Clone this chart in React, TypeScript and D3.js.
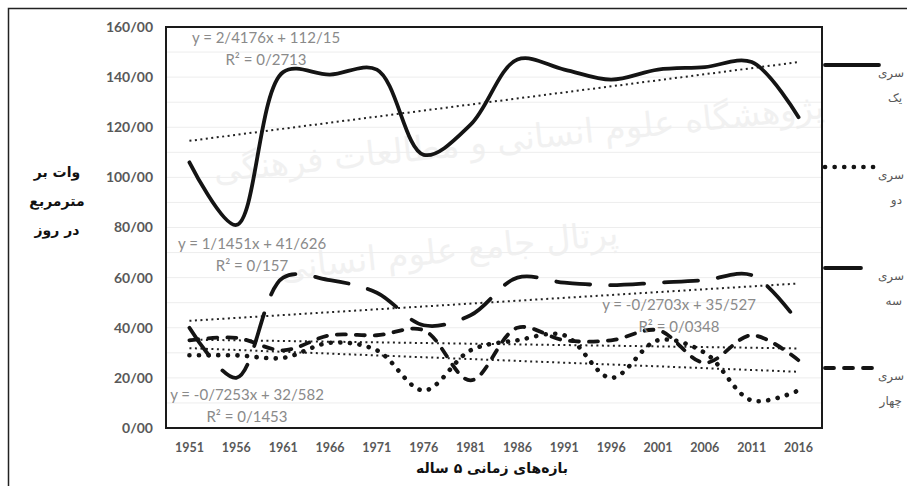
import React from "react";
import * as d3 from "d3";

// periods (x axis)
const years = ["1951", "1956", "1961", "1966", "1971", "1976", "1981", "1986", "1991", "1996", "2001", "2006", "2011", "2016"];

// series values
const seriesOne = [106, 81, 142, 141, 143, 109, 121, 147, 143, 139, 143, 144, 146, 124];
const seriesTwo = [29, 29, 28, 34, 31, 15, 31, 35, 37, 20, 35, 30, 11, 15];
const seriesThree = [40, 20, 60, 59, 54, 41, 45, 60, 58, 57, 58, 59, 61, 42];
const seriesFour = [35, 36, 31, 37, 37, 39, 19, 40, 35, 35, 39, 26, 37, 27];

// legend names (two lines each)
const seriesNames = [
  ["سری", "یک"],
  ["سری", "دو"],
  ["سری", "سه"],
  ["سری", "چهار"],
];

// linear trend equations as printed on the chart
const trendSlopes = [2.4176, -0.7253, 1.1451, -0.2703];
const trendIntercepts = [112.15, 32.582, 41.626, 35.527];
const trendEquations = ["y = 2/4176x + 112/15", "y = -0/7253x + 32/582", "y = 1/1451x + 41/626", "y = -0/2703x + 35/527"];
const trendR2 = ["R² = 0/2713", "R² = 0/1453", "R² = 0/157", "R² = 0/0348"];

const yTicks = [0, 20, 40, 60, 80, 100, 120, 140, 160];
const yTitle = ["وات بر", "مترمربع", "در روز"];
const xTitle = "بازه‌های زمانی ۵ ساله";

const W = 907;
const H = 486;
const plot = { left: 166, right: 822, top: 27, bottom: 428 };

const lineColor = "#141414";
const grayText = "#595959";
const eqText = "#8a8a8a";

const App = () => {
  const x = d3.scalePoint<string>().domain(years).range([plot.left, plot.right]).padding(0.5);
  const y = d3.scaleLinear().domain([0, 160]).range([plot.bottom, plot.top]);

  const line = d3
    .line<number>()
    .x((d, i) => x(years[i]) as number)
    .y((d) => y(d))
    .curve(d3.curveCatmullRom.alpha(0.5));

  const allSeries = [seriesOne, seriesTwo, seriesThree, seriesFour];
  const styles = [
    { dash: "none", width: 3.8 },
    { dash: "0.1 9.5", width: 4.6 },
    { dash: "34 20", width: 3.8 },
    { dash: "9 10", width: 3.8 },
  ];

  // trend line endpoints from the printed equations (x = 1 .. n)
  const trends = trendSlopes.map((m, k) => {
    const n = years.length;
    return [
      [x(years[0]) as number, y(m * 1 + trendIntercepts[k])],
      [x(years[n - 1]) as number, y(m * n + trendIntercepts[k])],
    ];
  });

  // label placement for the equations [centerX, line1 Y]
  const eqPos = [
    [266, 38],
    [247, 395],
    [252, 244],
    [679, 305],
  ];

  const legendY = [65, 167, 268, 368];
  const legendEnd = [879, 879, 861, 879];

  const grid = d3.range(0, 161, 10);

  return (
    <svg width={W} height={H} style={{ position: "absolute", left: 0, top: 0, background: "#fff" }}>
      {/* outer frame */}
      <rect x={8.5} y={8.5} width={920} height={490} fill="none" stroke="#222" strokeWidth={1.5} />

      {/* faint watermark */}
      <g fill="#f1f1f1" fontFamily="DejaVu Sans" textAnchor="middle">
        <text x={520} y={150} fontSize={34} transform="rotate(-6 520 150)">پژوهشگاه علوم انسانی و مطالعات فرهنگی</text>
        <text x={450} y={262} fontSize={34} transform="rotate(-6 450 262)">پرتال جامع علوم انسانی</text>
      </g>

      {/* faint grid */}
      {grid.map((g) => (
        <line key={g} x1={plot.left} x2={plot.right} y1={y(g)} y2={y(g)} stroke="#ededed" strokeWidth={1} />
      ))}

      {/* plot frame */}
      <rect
        x={plot.left}
        y={plot.top}
        width={plot.right - plot.left}
        height={plot.bottom - plot.top}
        fill="none"
        stroke="#1a1a1a"
        strokeWidth={2}
      />

      {/* y tick labels */}
      {yTicks.map((t) => (
        <text
          key={t}
          x={153}
          y={y(t)}
          dy="0.35em"
          textAnchor="end"
          fontFamily="Lato, 'Open Sans', sans-serif"
          fontWeight={700}
          fontSize={14}
          fill={grayText}
        >
          {`${t}/00`}
        </text>
      ))}

      {/* x tick labels */}
      {years.map((yr) => (
        <text
          key={yr}
          x={x(yr)}
          y={452}
          textAnchor="middle"
          fontFamily="Lato, 'Open Sans', sans-serif"
          fontWeight={700}
          fontSize={12.5}
          fill={grayText}
        >
          {yr}
        </text>
      ))}

      {/* axis titles */}
      <g fontFamily="DejaVu Sans" fontWeight={700} fontSize={14} fill="#111" textAnchor="middle">
        {yTitle.map((t, i) => (
          <text key={t} x={57} y={177 + i * 29}>
            {t}
          </text>
        ))}
        <text x={492} y={473}>
          {xTitle}
        </text>
      </g>

      {/* trend lines */}
      {trends.map((tr, k) => (
        <line
          key={k}
          x1={tr[0][0]}
          y1={tr[0][1]}
          x2={tr[1][0]}
          y2={tr[1][1]}
          stroke="#222"
          strokeWidth={2}
          strokeDasharray="2 3.5"
        />
      ))}

      {/* series */}
      {allSeries.map((s, k) => (
        <path
          key={k}
          d={line(s) || ""}
          fill="none"
          stroke={lineColor}
          strokeWidth={styles[k].width}
          strokeLinecap="round"
          strokeLinejoin="round"
          strokeDasharray={styles[k].dash}
        />
      ))}

      {/* equation labels */}
      <g fontFamily="Lato, 'Open Sans', sans-serif" fontSize={15} fill={eqText} textAnchor="middle">
        {trendEquations.map((eq, k) => (
          <g key={k}>
            <text x={eqPos[k][0]} y={eqPos[k][1]} dy="0.35em">
              {eq}
            </text>
            <text x={eqPos[k][0]} y={eqPos[k][1] + 22} dy="0.35em">
              {trendR2[k]}
            </text>
          </g>
        ))}
      </g>

      {/* legend */}
      {seriesNames.map((nm, k) => (
        <g key={k}>
          <line
            x1={825}
            x2={legendEnd[k]}
            y1={legendY[k]}
            y2={legendY[k]}
            stroke={lineColor}
            strokeWidth={styles[k].width}
            strokeLinecap="round"
            strokeDasharray={k === 2 ? "none" : styles[k].dash}
          />
          <text x={904} y={legendY[k] + 12} textAnchor="end" fontFamily="DejaVu Sans" fontSize={12} fill={grayText}>
            {nm[0]}
          </text>
          <text x={902} y={legendY[k] + 37} textAnchor="end" fontFamily="DejaVu Sans" fontSize={12} fill={grayText}>
            {nm[1]}
          </text>
        </g>
      ))}
    </svg>
  );
};

export default App;
